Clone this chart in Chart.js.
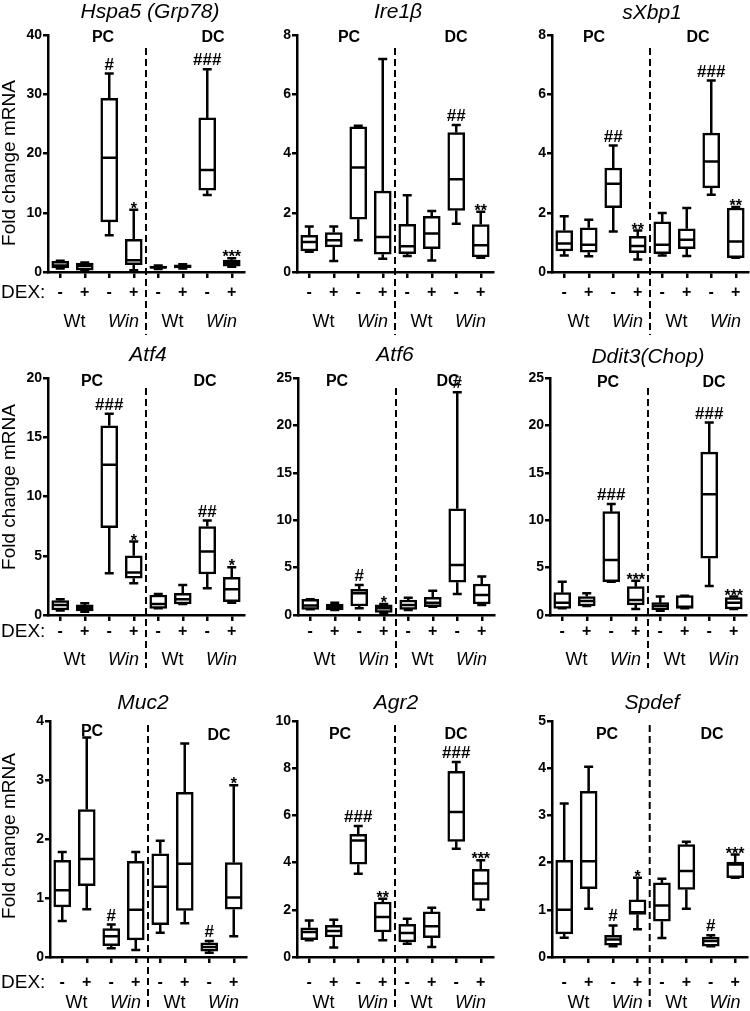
<!DOCTYPE html>
<html><head><meta charset="utf-8">
<script src="https://cdn.jsdelivr.net/npm/chart.js@4.4.1/dist/chart.umd.min.js"></script>
<style>
html,body{margin:0;padding:0;background:#fff;}
#wrap{position:relative;width:750px;height:1011px;overflow:hidden;background:#fff;}
canvas{position:absolute;}
</style></head><body><div id="wrap"></div>
<script>
// ---- data: each box = [min, q1, median, q3, max] ----
const dexLabels = ['-', '+', '-', '+', '-', '+', '-', '+'];
const genotypeLabels = ['Wt', 'Win', 'Wt', 'Win'];
const regionLabels = ['PC', 'DC'];

const hspa5 = [[0.6,0.7,1.1,1.8,1.9],[0.2,0.3,1.0,1.5,1.6],[6.2,8.45,19.3,29.3,33.5],[0.3,1.25,2.0,5.5,10.5],
               [0.5,0.6,0.8,1.0,1.1],[0.6,0.7,0.9,1.2,1.3],[13.0,13.8,17.2,26.0,34.2],[0.9,1.0,1.5,2.0,2.3]];
const hspa5Marks = ['','','#','*','','','###','***'];

const ire1b = [[0.68,0.71,1.01,1.24,1.54],[0.37,0.85,1.07,1.33,1.54],[1.07,1.78,3.53,4.9,4.94],[0.45,0.6,1.18,2.73,7.19],
               [0.54,0.62,0.87,1.61,2.59],[0.39,0.79,1.3,1.88,2.06],[1.63,2.08,3.13,4.71,4.96],[0.48,0.51,0.9,1.6,2.03]];
const ire1bMarks = ['','','','','','','##','**'];

const sxbp1 = [[0.56,0.71,0.96,1.40,1.88],[0.53,0.67,0.92,1.49,1.76],[1.37,2.17,2.98,3.51,4.27],[0.42,0.65,0.88,1.2,1.4],
               [0.56,0.62,0.92,1.69,1.99],[0.54,0.79,1.09,1.46,2.16],[2.61,2.84,3.73,4.69,6.46],[0.48,0.48,1.03,2.16,2.19]];
const sxbp1Marks = ['','','##','**','','','###','**'];

const atf4 = [[0.37,0.42,0.85,1.21,1.32],[0.28,0.34,0.62,0.85,0.99],[3.52,7.38,12.68,15.97,16.99],[2.68,3.1,3.58,4.99,6.2],
              [0.56,0.56,0.93,1.69,1.77],[0.93,0.93,1.32,1.83,2.54],[2.25,3.46,5.35,7.46,7.97],[1.04,1.13,2.17,3.18,4.03]];
const atf4Marks = ['','','###','*','','','##','*'];

const atf6 = [[0.6,0.6,0.99,1.65,1.65],[0.53,0.53,0.88,1.16,1.3],[0.7,0.95,2.29,2.71,3.17],[0.25,0.28,0.7,1.06,1.16],
              [0.53,0.6,1.06,1.58,1.83],[0.88,0.88,1.3,1.87,2.57],[2.22,3.45,5.28,11.2,23.5],[1.06,1.16,2.11,3.27,4.05]];
const atf6Marks = ['','','#','*','','','#',''];

const ddit3 = [[0.7,0.7,1.3,2.36,3.52],[0.95,0.95,1.48,1.94,2.29],[3.5,3.52,5.8,10.9,11.7],[0.63,1.06,1.58,2.99,3.62],
               [0.46,0.53,0.95,1.3,1.94],[0.7,0.7,0.88,2.04,2.04],[3.06,5.99,12.75,17.18,20.3],[0.63,0.63,1.3,1.83,1.94]];
const ddit3Marks = ['','','###','***','','','###','***'];

const muc2 = [[0.61,0.85,1.13,1.64,1.78],[0.81,1.21,1.66,2.5,3.72],[0.15,0.19,0.35,0.48,0.55],[0.12,0.29,0.8,1.62,1.78],
              [0.41,0.55,1.19,1.75,1.97],[0.57,0.79,1.58,2.79,3.62],[0.07,0.1,0.17,0.24,0.27],[0.35,0.81,1.01,1.6,2.91]];
const muc2Marks = ['','','#','','','','#','*'];

const agr2 = [[0.71,0.73,1.06,1.24,1.55],[0.4,0.85,1.1,1.34,1.58],[3.53,3.93,4.94,5.2,5.55],[0.71,1.06,1.69,2.33,2.47],
              [0.56,0.64,1.02,1.38,1.62],[0.42,0.82,1.3,1.91,2.09],[4.59,4.9,6.14,7.87,8.26],[2.0,2.4,3.11,3.71,4.1]];
const agr2Marks = ['','','###','**','','','###','***'];

const spdef = [[0.41,0.49,1.0,2.05,3.25],[1.02,1.45,2.03,3.51,4.03],[0.23,0.25,0.37,0.46,0.67],[0.59,0.9,0.95,1.21,1.68],
               [0.4,0.76,1.09,1.57,1.66],[1.02,1.43,1.82,2.38,2.44],[0.23,0.23,0.34,0.42,0.46],[1.68,1.68,1.96,2.01,2.17]];
const spdefMarks = ['','','#','*','','','#','***'];

const yMax  = [40, 8, 8, 20, 25, 25, 4, 10, 5];
const yStep = [10, 2, 2, 5, 5, 5, 1, 2, 1];
const geneTitles = ['Hspa5 (Grp78)', 'Ire1\u03B2', 'sXbp1', 'Atf4', 'Atf6', 'Ddit3(Chop)', 'Muc2', 'Agr2', 'Spdef'];
const yTitle = 'Fold change mRNA';
const dexTitle = 'DEX:';

// ---- layout ----
const FONT = '"Liberation Sans", Arial, Helvetica, sans-serif';
const rows = [
  {top:0,   h:335, chartTop:35,  chartBottom:272, tickPad:5,  dexDy:21, wtDy:50, dashTop:48,  dashBottom:335, yTitleY:163},
  {top:335, h:335, chartTop:378, chartBottom:615, tickPad:1,  dexDy:17, wtDy:45, dashTop:388, dashBottom:668, yTitleY:487},
  {top:670, h:341, chartTop:721, chartBottom:957, tickPad:10, dexDy:26, wtDy:46, dashTop:725, dashBottom:1011, yTitleY:836}
];
const colLeft = [0, 250, 500];
const CW = 196;
const panels = [
  {boxes:hspa5, marks:hspa5Marks, row:0, col:0, axisX:48,  titleX:150, titleY:12, pc:[103,38], dc:[213,38]},
  {boxes:ire1b, marks:ire1bMarks, row:0, col:1, axisX:297, titleX:398, titleY:12, pc:[349,38], dc:[456,38]},
  {boxes:sxbp1, marks:sxbp1Marks, row:0, col:2, axisX:552, titleX:652, titleY:13, pc:[594,38], dc:[698,38]},
  {boxes:atf4,  marks:atf4Marks,  row:1, col:0, axisX:48,  titleX:148, titleY:355, pc:[92,382], dc:[205,382]},
  {boxes:atf6,  marks:atf6Marks,  row:1, col:1, axisX:298, titleX:395, titleY:355, pc:[337,382], dc:[448,382]},
  {boxes:ddit3, marks:ddit3Marks, row:1, col:2, axisX:550, titleX:648, titleY:357, pc:[608,383], dc:[714,383]},
  {boxes:muc2,  marks:muc2Marks,  row:2, col:0, axisX:50,  titleX:143, titleY:703, pc:[92,732], dc:[219,736]},
  {boxes:agr2,  marks:agr2Marks,  row:2, col:1, axisX:297, titleX:396, titleY:703, pc:[340,735], dc:[456,735]},
  {boxes:spdef, marks:spdefMarks, row:2, col:2, axisX:552, titleX:652, titleY:703, pc:[607,735], dc:[712,735]}
];

const decor = {
  id: 'decor',
  afterDatasetsDraw(chart) {
    const o = chart.options.plugins.decor;
    const ctx = chart.ctx, x = chart.scales.x, y = chart.scales.y;
    const meta = chart.getDatasetMeta(0);
    ctx.save();
    ctx.strokeStyle = '#000';
    ctx.lineWidth = 2.5;
    ctx.lineCap = 'butt';
    o.boxes.forEach((b, i) => {
      const cx = x.getPixelForValue(i);
      const bw = meta.data[i].width;
      const pMin = y.getPixelForValue(b[0]), pQ1 = y.getPixelForValue(b[1]);
      const pMed = y.getPixelForValue(b[2]), pQ3 = y.getPixelForValue(b[3]);
      const pMax = y.getPixelForValue(b[4]);
      const cap = 9;
      ctx.beginPath();
      if (pMax < pQ3 - 0.5) { ctx.moveTo(cx, pQ3); ctx.lineTo(cx, pMax); }
      ctx.moveTo(cx - cap/2, pMax); ctx.lineTo(cx + cap/2, pMax);
      if (pMin > pQ1 + 0.5) { ctx.moveTo(cx, pQ1); ctx.lineTo(cx, pMin); }
      ctx.moveTo(cx - cap/2, pMin); ctx.lineTo(cx + cap/2, pMin);
      ctx.moveTo(cx - bw/2 + 1, pMed); ctx.lineTo(cx + bw/2 - 1, pMed);
      ctx.stroke();
      const m = o.marks[i];
      if (m) {
        ctx.fillStyle = '#000';
        ctx.textAlign = 'center';
        ctx.textBaseline = 'alphabetic';
        if (m[0] === '#') {
          ctx.font = 'bold 17px ' + FONT;
          ctx.fillText(m, cx, pMax - 4);
        } else {
          ctx.font = 'bold 16px ' + FONT;
          ctx.fillText(m, cx, pMax + 4);
        }
      }
    });
    ctx.restore();
  },
  afterDraw(chart) {
    const o = chart.options.plugins.decor;
    const ctx = chart.ctx, x = chart.scales.x;
    const ox = o.ox, oy = o.oy, ca = chart.chartArea;
    ctx.save();
    // dashed separator
    const dx = (x.getPixelForValue(3) + x.getPixelForValue(4)) / 2;
    ctx.strokeStyle = '#000';
    ctx.lineWidth = 2;
    ctx.setLineDash([7, 4]);
    ctx.beginPath();
    ctx.moveTo(dx, o.dashTop - oy);
    ctx.lineTo(dx, o.dashBottom - oy);
    ctx.stroke();
    ctx.setLineDash([]);
    ctx.fillStyle = '#000';
    // gene title
    ctx.textAlign = 'center';
    ctx.textBaseline = 'middle';
    ctx.font = 'italic 21px ' + FONT;
    ctx.fillText(o.title, o.titleX - ox, o.titleY - oy);
    // region labels
    ctx.font = 'bold 16px ' + FONT;
    ctx.fillText(regionLabels[0], o.pc[0] - ox, o.pc[1] - oy);
    ctx.fillText(regionLabels[1], o.dc[0] - ox, o.dc[1] - oy);
    // genotype labels
    for (let k = 0; k < 4; k++) {
      const mx = (x.getPixelForValue(2*k) + x.getPixelForValue(2*k+1)) / 2 + 2;
      ctx.font = (k % 2 ? 'italic ' : '') + '18px ' + FONT;
      ctx.fillText(genotypeLabels[k], mx, ca.bottom + o.wtDy);
    }
    if (o.first) {
      ctx.textAlign = 'left';
      ctx.font = '19px ' + FONT;
      ctx.fillText(dexTitle, 1, ca.bottom + o.dexDy);
      ctx.save();
      ctx.translate(10, o.yTitleY - oy);
      ctx.rotate(-Math.PI / 2);
      ctx.textAlign = 'center';
      ctx.font = '19px ' + FONT;
      ctx.fillText(yTitle, 0, 0);
      ctx.restore();
    }
    ctx.restore();
  }
};

const wrap = document.getElementById('wrap');
panels.forEach((p, idx) => {
  const r = rows[p.row];
  const left = colLeft[p.col];
  const cv = document.createElement('canvas');
  cv.width = 250; cv.height = r.h;
  cv.style.left = left + 'px'; cv.style.top = r.top + 'px';
  cv.style.width = '250px'; cv.style.height = r.h + 'px';
  wrap.appendChild(cv);
  const yW = p.axisX - left;
  const padRight = 250 - (yW + CW);
  const padTop = r.chartTop - r.top;
  const xH = r.h - (r.chartBottom - r.top);
  new Chart(cv.getContext('2d'), {
    type: 'bar',
    data: {
      labels: dexLabels,
      datasets: [{
        data: p.boxes.map(b => [b[1], b[3]]),
        backgroundColor: '#ffffff',
        borderColor: '#000000',
        borderWidth: 2.5,
        borderSkipped: false,
        barThickness: 17
      }]
    },
    options: {
      responsive: false,
      animation: false,
      devicePixelRatio: 1,
      layout: { padding: { top: padTop, left: 0, right: padRight, bottom: 0 } },
      plugins: {
        legend: { display: false },
        tooltip: { enabled: false },
        title: { display: false },
        decor: {
          boxes: p.boxes, marks: p.marks, title: geneTitles[idx],
          ox: left, oy: r.top, titleX: p.titleX, titleY: p.titleY, pc: p.pc, dc: p.dc,
          dashTop: r.dashTop, dashBottom: r.dashBottom, wtDy: r.wtDy, dexDy: r.dexDy,
          yTitleY: r.yTitleY, first: p.col === 0
        }
      },
      scales: {
        x: {
          type: 'category',
          offset: true,
          grid: { offset: false, drawOnChartArea: false, drawTicks: true, tickLength: 6, color: '#000', lineWidth: 2.5 },
          border: { display: true, color: '#000', width: 2.5 },
          ticks: { color: '#000', font: { family: FONT, size: 16, weight: 'bold' }, padding: r.tickPad, maxRotation: 0, autoSkip: false },
          afterFit: s => { s.height = xH; }
        },
        y: {
          type: 'linear',
          min: 0, max: yMax[idx],
          grid: { drawOnChartArea: false, drawTicks: true, tickLength: 5, color: '#000', lineWidth: 2.5 },
          border: { display: true, color: '#000', width: 2.5 },
          ticks: { stepSize: yStep[idx], color: '#000', font: { family: FONT, size: 14, weight: 'bold' }, padding: 1 },
          afterFit: s => { s.width = yW; }
        }
      }
    },
    plugins: [decor]
  });
});
</script></body></html>
